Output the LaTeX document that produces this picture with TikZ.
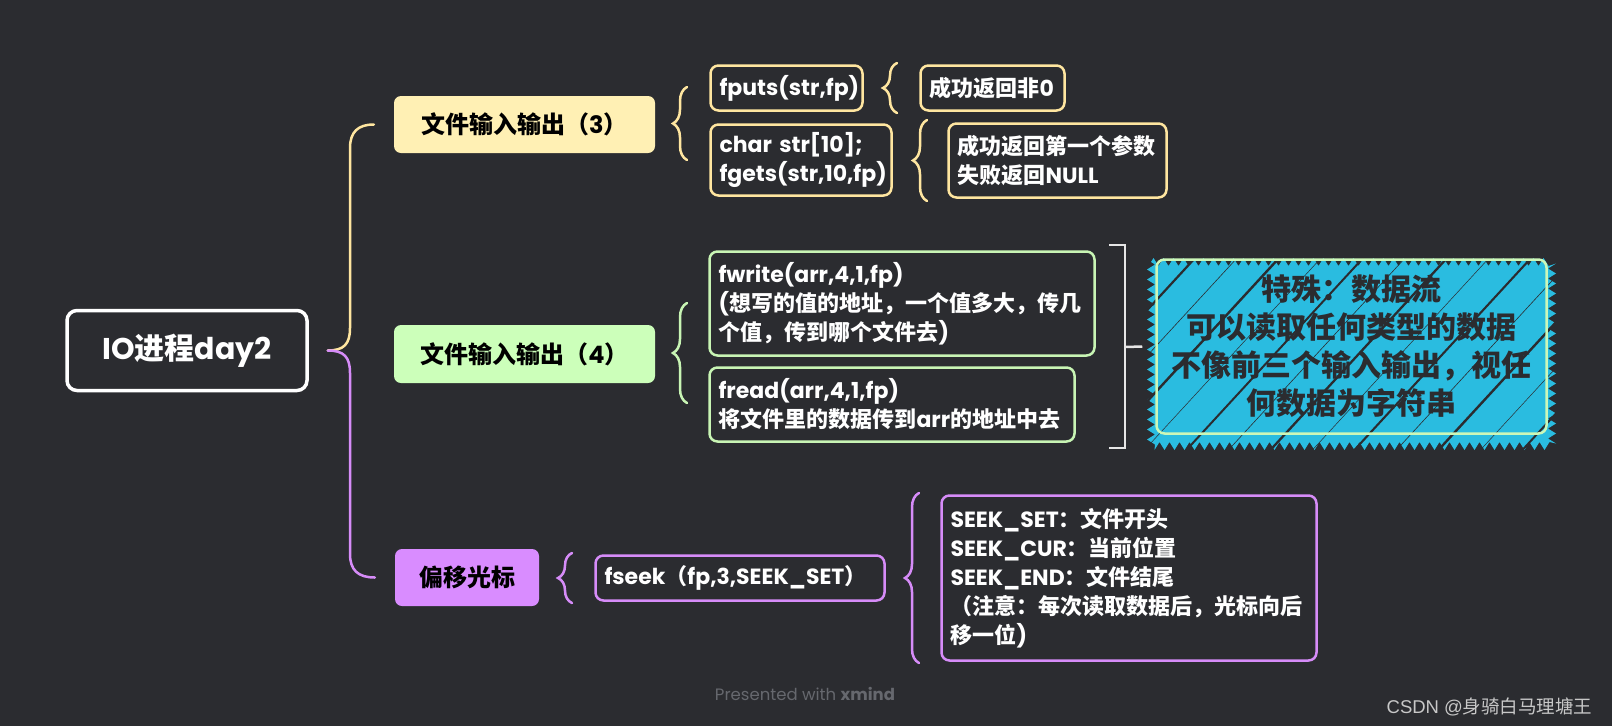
\documentclass[tikz,border=0pt]{standalone}
\usepackage{fontspec}
\setmainfont{Noto Sans CJK SC}
\newfontfamily\latf{Poppins}
\newfontfamily\arialf{Liberation Sans}
\newcommand\latn[1]{{\latf #1}}
\usetikzlibrary{decorations.pathreplacing,decorations.pathmorphing,calc}
\definecolor{bgc}{HTML}{2B2C30}
\definecolor{ylwl}{HTML}{FFE6A0}
\definecolor{ylwf}{HTML}{FFF0B4}
\definecolor{grnl}{HTML}{C8F5B4}
\definecolor{grnf}{HTML}{CCFFBA}
\definecolor{purl}{HTML}{D68CF8}
\definecolor{purf}{HTML}{D98CFF}
\definecolor{cyanf}{HTML}{2ABCE0}
\definecolor{spb}{HTML}{CCF7B8}
\definecolor{sptext}{HTML}{2B2C30}
\definecolor{brk}{HTML}{E6E6E6}
\definecolor{wmc}{HTML}{66686E}
\definecolor{csdnc}{HTML}{C8C8C8}
\begin{document}
\begin{tikzpicture}[x=1pt,y=-1pt,
  rootbox/.style={draw=white, line width=3.5pt, fill=bgc, rounded corners=10pt,
    minimum width=240pt, minimum height=80pt, text=white, inner sep=0pt,
    font=\bfseries\fontsize{30}{36}\selectfont},
  mainbox/.style={rounded corners=7pt, minimum height=57pt, inner sep=0pt,
    text=black, font=\bfseries\fontsize{24}{28}\selectfont},
  leaf/.style={draw=#1, line width=2.5pt, rounded corners=8pt, fill=bgc,
    text=white, align=left, inner xsep=9pt, inner ysep=0pt,
    font=\bfseries\fontsize{22}{29}\selectfont},
  conn/.style={line width=2.5pt, line cap=round},
  brc/.style={decorate, decoration={brace, amplitude=14pt}, line width=2.5pt, line cap=round},
]
\fill[bgc] (0,0) rectangle (1612,726);
\useasboundingbox (0,0) rectangle (1612,726);

% root and main topics
\node[rootbox] (root) at (187,350.5) {\latn{IO}进程\latn{day2}};
\node[mainbox, fill=ylwf, minimum width=261pt] (m1) at (524.5,124.5) {文件输入输出（\latn{3}）};
\node[mainbox, fill=grnf, minimum width=261pt, minimum height=58pt] (m2) at (524.5,354) {文件输入输出（\latn{4}）};
\node[mainbox, fill=purf, minimum width=144pt] (m3) at (467,577.5) {偏移光标};

% leaves
\node[leaf=ylwl, minimum width=152pt, minimum height=45pt, text width=134pt] (fputs) at (786.5,88) {\latn{fputs(str,fp)}};
\node[leaf=ylwl, minimum width=144pt, minimum height=45pt, text width=126pt] (ok0) at (992.5,88) {成功返回非\latn{0}};
\node[leaf=ylwl, minimum width=181pt, minimum height=71pt, text width=163pt] (fgets) at (801,160) {\latn{char str[10];}\\\latn{fgets(str,10,fp)}};
\node[leaf=ylwl, minimum width=218pt, minimum height=74pt, text width=200pt] (okp) at (1057.5,160.5) {成功返回第一个参数\\失败返回\latn{NULL}};
\node[leaf=grnl, minimum width=385pt, minimum height=104pt, text width=367pt] (fwrite) at (902,303.5) {\latn{fwrite(arr,4,1,fp)}\\\latn{(}想写的值的地址，一个值多大，传几\\个值，传到哪个文件去\latn{)}};
\node[leaf=grnl, minimum width=365pt, minimum height=74pt, text width=347pt] (fread) at (892,404.5) {\latn{fread(arr,4,1,fp)}\\将文件里的数据传到\latn{arr}的地址中去};
\node[leaf=purl, minimum width=289pt, minimum height=45pt, text width=271pt] (fseek) at (740,578) {\latn{fseek}（\latn{fp,3,SEEK\_SET}）};
\node[leaf=purl, minimum width=375pt, minimum height=165pt, text width=357pt] (seek) at (1129,578) {\latn{SEEK\_SET}：文件开头\\\latn{SEEK\_CUR}：当前位置\\\latn{SEEK\_END}：文件结尾\\（注意：每次读取数据后，光标向后\\移一位\latn{)}};

% special summary box with rough fill
\fill[cyanf, decorate, decoration={zigzag, segment length=10pt, amplitude=4pt}] (1151,262) rectangle (1552,446);
\begin{scope}
  \clip (1146,256) rectangle (1558,452);
  \foreach \i/\w in {0/2.2,1/0.6,2/2.4,3/0.5,4/2.0,5/0.6,6/2.3,7/0.5,8/2.1,9/0.6,10/2.4,11/0.5,12/2.0,13/0.6,14/2.2,15/0.5,16/2.3}
    \draw[bgc, line width=\w pt] (1000+\i*42,470) -- ++(230,-250);
\end{scope}
\node[draw=spb, line width=2.5pt, rounded corners=8pt, minimum width=390pt, minimum height=174pt,
  align=center, text=sptext, font=\bfseries\fontsize{30}{38}\selectfont] (spec) at (1351.5,346.5)
  {特殊：数据流\\可以读取任何类型的数据\\不像前三个输入输出，视任\\何数据为字符串};

% root connector
\coordinate (rt) at ($(root.east)+(19,0)$);
\coordinate (m1in) at ($(m1.west)+(-20,0)$);
\coordinate (m3in) at ($(m3.west)+(-20,0)$);
\draw[conn, ylwl] (rt) .. controls (344,350.5) and (350,344) .. (350,328) -- (350,148)
  .. controls (350,132) and (358,124.5) .. (m1in);
\draw[conn, purl] (rt) .. controls (344,350.5) and (350,357) .. (350,373) -- (350,554)
  .. controls (350,570) and (358,577.5) .. (m3in);

% braces
\coordinate (aB) at (687,160); \coordinate (aT) at (687,87);
\coordinate (bB) at (897,113); \coordinate (bT) at (897,63);
\coordinate (cB) at (927,201); \coordinate (cT) at (927,120);
\coordinate (dB) at (687,403); \coordinate (dT) at (687,303);
\coordinate (eB) at (572,603); \coordinate (eT) at (572,553);
\coordinate (fB) at (919,663); \coordinate (fT) at (919,493);
\draw[brc, ylwl] (aB) -- (aT);
\draw[brc, ylwl] (bB) -- (bT);
\draw[brc, ylwl] (cB) -- (cT);
\draw[brc, grnl] (dB) -- (dT);
\draw[brc, purl] (eB) -- (eT);
\draw[brc, purl] (fB) -- (fT);

% summary bracket
\coordinate (kT) at (1109,245);
\coordinate (kB) at (1109,448);
\draw[brk, line width=2.5pt] (kT) -- (1125,245) -- (1125,448) -- (kB);
\draw[brk, line width=2.5pt] (1125,347) -- ($(spec.west)+(-13,0)$);

% footer texts
\node[text=wmc, font=\latf\fontsize{16.5}{19}\selectfont] (wm) at (805,694) {Presented with \textbf{xmind}};
\node[anchor=east, text=csdnc, font=\fontsize{18.5}{22}\selectfont] (csdn) at (1596,707) {{\arialf CSDN @}身骑白马理塘王};
\end{tikzpicture}
\end{document}
